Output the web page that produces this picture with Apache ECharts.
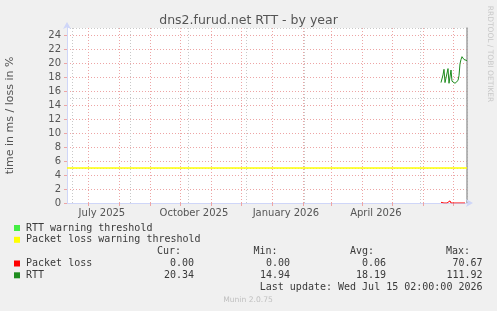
<!DOCTYPE html>
<html><head><meta charset="utf-8">
<script src="https://cdn.jsdelivr.net/npm/echarts@6/dist/echarts.min.js"></script>
<style>html,body{margin:0;padding:0;background:#f0f0f0}#c{width:497px;height:311px}</style>
</head><body><div id="c"></div>
<script>
// ---- data ----
const titleText = 'dns2.furud.net RTT - by year';
const yAxisName = 'time in ms / loss in %';
const axisStart = '2025-06-10T02:00:00';
const axisEnd = '2026-07-15T02:00:00';
const yMin = 0, yMax = 25;
const yTicks = [0, 2, 4, 6, 8, 10, 12, 14, 16, 18, 20, 22, 24];
const yMinorLines = [1, 3, 5, 7, 9, 11, 13, 15, 17, 19, 21, 23, 25];
const monthStarts = ['2025-07-01','2025-08-01','2025-09-01','2025-10-01','2025-11-01','2025-12-01',
  '2026-01-01','2026-02-01','2026-03-01','2026-04-01','2026-05-01','2026-06-01','2026-07-01'];
const minorStart = '2025-06-20T12:00:00';   // first bi-weekly minor grid line
const minorStepDays = 14;
const labelDates = ['2025-07-15','2025-10-15','2026-01-15','2026-04-15'];
const labelTexts = ['July 2025','October 2025','January 2026','April 2026'];

const dataStart = '2026-06-19T02:00:00';    // first daily sample
const rttValues = [17.2, 17.3, 18.3, 19.1, 17.2, 17.3, 17.2, 19.2, 17.1, 17.3, 19.0, 17.4, 17.3, 17.2,
  17.1, 17.3, 17.2, 17.5, 18.2, 19.9, 20.5, 20.9, 20.8, 20.5, 20.3, 20.4, 20.34];
const lossValues = [0.1, 0, 0, 0, 0, 0, 0, 0, 0, 0.3, 0, 0, 0, 0, 0.25, 0, 0, 0, 0, 0, 0, 0.2, 0, 0, 0];
const lossWarning = 5;

const legendRows = ['RTT warning threshold', 'Packet loss warning threshold'];
const legendRowColors = ['#44ee44', '#ffff00'];
const statHeaders = ['Cur:', 'Min:', 'Avg:', 'Max:'];
const statNames = ['Packet loss', 'RTT'];
const statColors = ['#ff0000', '#1e8c1e'];
const statCur = ['0.00', '20.34'];
const statMin = ['0.00', '14.94'];
const statAvg = ['0.06', '18.19'];
const statMax = ['70.67', '111.92'];
const lastUpdate = 'Last update: Wed Jul 15 02:00:00 2026';
const footer = 'Munin 2.0.75';
const sideText = 'RRDTOOL / TOBI OETIKER';

// ---- build ----
const DAY = 86400000;
const t = s => new Date(s).getTime();
const startMs = t(axisStart), endMs = t(axisEnd);
const rttData = rttValues.map((v, i) => [t(dataStart) + i * DAY, v]);
const lossData = lossValues.map((v, i) => [t(dataStart) + i * DAY, v]);
const minorX = [];
for (let m = t(minorStart); m < endMs; m += minorStepDays * DAY) minorX.push(m);
const labelMs = labelDates.map(t);
const monthMs = monthStarts.map(t);

const G = {left: 67, top: 28, width: 400, height: 175};
const gridRed = '#eda5a5', gridGray = '#c8c8c8', axisCol = '#cfd6f8';
const mono = '"DejaVu Sans Mono", monospace';
const dash = [1, 2];

const chart = echarts.init(document.getElementById('c'), null, {renderer: 'canvas'});
const graphics = [];
graphics.push({type: 'line', shape: {x1: G.left + 0.5, y1: G.top, x2: G.left + 0.5, y2: G.top - 4}, style: {stroke: axisCol, lineWidth: 1}, z: 10});
graphics.push({type: 'line', shape: {x1: G.left + G.width, y1: G.top + G.height + 0.5, x2: G.left + G.width + 4, y2: G.top + G.height + 0.5}, style: {stroke: axisCol, lineWidth: 1}, z: 10});
graphics.push({type: 'text', x: 490, y: 54, rotation: -Math.PI / 2,
  style: {text: sideText, fill: '#c8c8c8', font: '7.5px "DejaVu Sans"', textAlign: 'center', textVerticalAlign: 'middle'}});
const rowY = [228, 239.8, 251.5, 263.5, 275.3, 287.2];
const valRight = [194, 290, 386, 482.5];
const hdrRight = [181, 277.5, 374, 470];
legendRows.forEach((txt, i) => {
  graphics.push({type: 'rect', shape: {x: 14, y: rowY[i] - 3, width: 6, height: 6}, style: {fill: legendRowColors[i]}});
  graphics.push({type: 'text', x: 26, y: rowY[i], style: {text: txt, fill: '#3a3a3a', font: '10px ' + mono, textVerticalAlign: 'middle'}});
});
statHeaders.forEach((h, j) => {
  graphics.push({type: 'text', x: hdrRight[j], y: rowY[2], style: {text: h, fill: '#3a3a3a', font: '10px ' + mono, textAlign: 'right', textVerticalAlign: 'middle'}});
});
const statCols = [statCur, statMin, statAvg, statMax];
statNames.forEach((n, i) => {
  const y = rowY[3 + i];
  graphics.push({type: 'rect', shape: {x: 14, y: y - 3, width: 6, height: 6}, style: {fill: statColors[i]}});
  graphics.push({type: 'text', x: 26, y: y, style: {text: n, fill: '#3a3a3a', font: '10px ' + mono, textVerticalAlign: 'middle'}});
  statCols.forEach((col, j) => {
    graphics.push({type: 'text', x: valRight[j], y: y, style: {text: col[i], fill: '#3a3a3a', font: '10px ' + mono, textAlign: 'right', textVerticalAlign: 'middle'}});
  });
});
graphics.push({type: 'text', x: 482.5, y: rowY[5], style: {text: lastUpdate, fill: '#3a3a3a', font: '10px ' + mono, textAlign: 'right', textVerticalAlign: 'middle'}});
graphics.push({type: 'text', x: 248, y: 300, style: {text: footer, fill: '#c0c0c0', font: '7.6px "DejaVu Sans"', textAlign: 'center', textVerticalAlign: 'middle'}});

const hiddenAxis = {axisLine: {show: false}, axisTick: {show: false}, axisLabel: {show: false}};
chart.setOption({
  animation: false,
  backgroundColor: '#f0f0f0',
  textStyle: {fontFamily: 'DejaVu Sans'},
  title: {text: titleText, left: 'center', top: 9, textStyle: {fontSize: 12.5, fontWeight: 'normal', color: '#555555', fontFamily: 'DejaVu Sans'}},
  grid: Object.assign({backgroundColor: '#ffffff', show: true, borderWidth: 0, containLabel: false, outerBoundsMode: 'none'}, G),
  xAxis: [Object.assign({
    type: 'value', min: startMs, max: endMs, position: 'bottom',
    splitLine: {show: true, customValues: minorX, lineStyle: {color: gridGray, type: dash}}
  }, hiddenAxis), {
    type: 'value', min: startMs, max: endMs, position: 'bottom',
    axisLine: {lineStyle: {color: axisCol}, symbol: ['none', 'arrow'], symbolSize: [6, 7], symbolOffset: [0, 6]},
    axisTick: {show: true, customValues: monthMs, length: 3, lineStyle: {color: gridRed}},
    axisLabel: {customValues: labelMs, formatter: v => { const i = labelMs.indexOf(v); return i >= 0 ? labelTexts[i] : ''; },
      color: '#555555', fontSize: 10, margin: 5},
    splitLine: {show: true, customValues: monthMs, lineStyle: {color: gridRed, type: dash}}
  }],
  yAxis: [Object.assign({
    type: 'value', min: yMin, max: yMax, position: 'left',
    splitLine: {show: true, customValues: yMinorLines, lineStyle: {color: gridGray, type: dash}}
  }, hiddenAxis), {
    type: 'value', min: yMin, max: yMax, interval: 1, position: 'left',
    name: yAxisName, nameLocation: 'middle', nameGap: 51, nameTextStyle: {color: '#555555', fontSize: 11},
    axisLine: {show: true, lineStyle: {color: axisCol}, symbol: ['none', 'arrow'], symbolSize: [6, 7], symbolOffset: [0, 6]},
    axisTick: {show: true, customValues: yTicks, length: 3, lineStyle: {color: gridRed}},
    axisLabel: {customValues: yTicks, formatter: v => String(v), color: '#555555', fontSize: 10, margin: 6},
    splitLine: {show: true, customValues: yTicks.filter(v => v > 0), lineStyle: {color: gridRed, type: dash}}
  }, {
    type: 'value', min: yMin, max: yMax, position: 'right',
    axisLine: {show: true, lineStyle: {color: '#a0a0a0', width: 1.5}},
    axisTick: {show: false}, axisLabel: {show: false}, splitLine: {show: false}
  }],
  graphic: graphics,
  series: [
    {name: 'Packet loss warning threshold', type: 'line', xAxisIndex: 1, yAxisIndex: 1, data: [[startMs, lossWarning], [endMs, lossWarning]],
      showSymbol: false, lineStyle: {color: '#ffff00', width: 1.5}, z: 3},
    {name: 'Packet loss', type: 'line', xAxisIndex: 1, yAxisIndex: 1, data: lossData, showSymbol: false, lineStyle: {color: '#ff0000', width: 1}, z: 4},
    {name: 'RTT', type: 'line', xAxisIndex: 1, yAxisIndex: 1, data: rttData, showSymbol: false, lineStyle: {color: '#1e8c1e', width: 1}, z: 5}
  ]
});
</script></body></html>
